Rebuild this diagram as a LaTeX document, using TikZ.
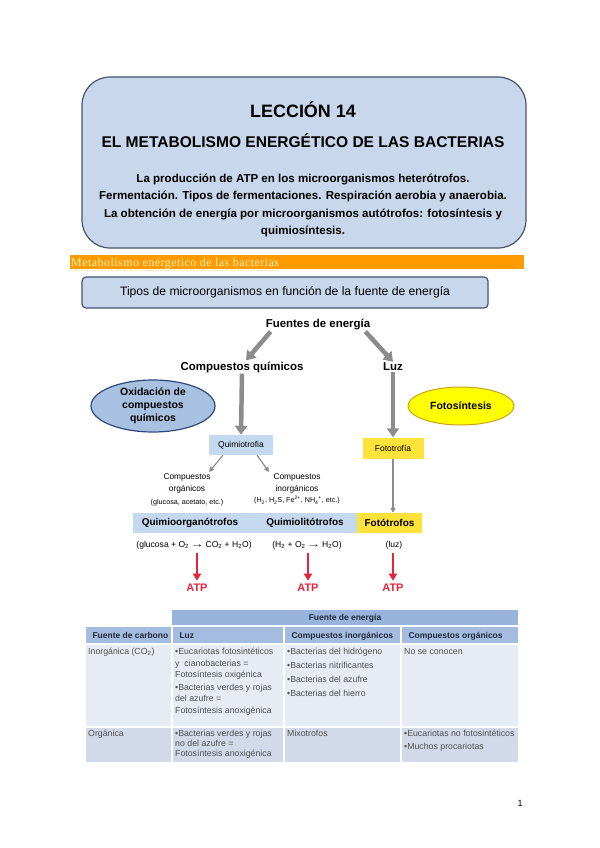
\documentclass[tikz,border=0pt]{standalone}
\usepackage{fontspec}
\setmainfont{Liberation Sans}
\newfontfamily\serifa[LetterSpace=4]{Liberation Serif}
\usetikzlibrary{arrows.meta,shapes.geometric}
\definecolor{cajaazul}{HTML}{C8D7EB}
\definecolor{bordeazul}{HTML}{44546F}
\definecolor{naranja}{HTML}{FF9A00}
\definecolor{crema}{HTML}{FFF1B8}
\definecolor{elipseazul}{HTML}{A9C1E0}
\definecolor{bordeelipse}{HTML}{2E4A7A}
\definecolor{amarillo}{HTML}{FFFF00}
\definecolor{bordeoro}{HTML}{C9A21A}
\definecolor{oro}{HTML}{FFE33B}
\definecolor{celeste}{HTML}{C4D8EF}
\definecolor{flecha}{HTML}{8C8C8C}
\definecolor{rojo}{HTML}{E4243A}
\definecolor{tabcab}{HTML}{98B4DC}
\definecolor{tabcabdos}{HTML}{A4BCE0}
\definecolor{tabfila}{HTML}{E7ECF4}
\definecolor{tabfilados}{HTML}{D2DAE9}
\definecolor{textogris}{HTML}{505050}
\definecolor{textooscuro}{HTML}{1E2A3A}
\newcommand{\reacciona}{\,\scalebox{1.6}[1.1]{\textbf{→}}\,}
\tikzset{
  flechagris/.style={draw=flecha,line width=4.5bp,-{Triangle[width=12bp,length=9bp]}},
  flechafina/.style={draw=flecha,line width=1.2bp,-{Triangle[width=5bp,length=5bp]}},
  flecharoja/.style={draw=rojo,line width=2.4bp,-{Triangle[width=8bp,length=7bp]}},
  rotulo/.style={font=\bfseries\fontsize{11.5}{13}\selectfont,inner sep=1bp},
  subtitulo/.style={anchor=base,font=\bfseries\fontsize{11.6}{13}\selectfont},
  ecuacion/.style={font=\fontsize{8.6}{10}\selectfont},
  cabecera/.style={anchor=base west,text=textooscuro,font=\bfseries\fontsize{8.5}{10}\selectfont},
  celda/.style={anchor=north west,inner sep=0pt,align=left,text=textogris,font=\fontsize{8.8}{11.5}\selectfont},
  separador/.style={white,line width=1.5bp}
}
\begin{document}
\begin{tikzpicture}[x=1bp,y=-1bp]
\useasboundingbox[fill=white] (0,0) rectangle (600,848);
% cabecera de la leccion
\draw[fill=cajaazul,draw=bordeazul,line width=1.2bp,rounded corners=28bp] (82,77) rectangle (526,248);
\node[anchor=base,font=\bfseries\fontsize{18}{20}\selectfont] (leccion) at (303,117) {LECCIÓN 14};
\node[anchor=base,font=\bfseries\fontsize{15.6}{17}\selectfont] (tema) at (303,147.5) {EL METABOLISMO ENERGÉTICO DE LAS BACTERIAS};
\node[subtitulo] (linea1) at (303,182) {La producción de ATP en los microorganismos heterótrofos.};
\node[subtitulo] (linea2) at (303,199.5) {Fermentación. Tipos de fermentaciones. Respiración aerobia y anaerobia.};
\node[subtitulo] (linea3) at (303,217) {La obtención de energía por microorganismos autótrofos: fotosíntesis y};
\node[subtitulo] (linea4) at (303,234.5) {quimiosíntesis.};
% barra naranja
\fill[naranja] (70,255) rectangle (524,269);
\node[anchor=base west,inner sep=0pt,text=crema,font=\serifa\fontsize{12}{13}\selectfont] (barra) at (71,266) {\underline{Metabolismo enérgetico de las bacterias}};
\node[draw=bordeazul,fill=cajaazul,rounded corners=4bp,line width=1.2bp,minimum width=406bp,minimum height=31bp,font=\fontsize{12.2}{14}\selectfont] (tipos) at (285,292.5) {Tipos de microorganismos en función de la fuente de energía};
% esquema de fuentes de energia
\node[rotulo] (fuentes) at (318,325) {Fuentes de energía};
\node[rotulo] (quim) at (242,367) {Compuestos químicos};
\node[rotulo] (luz) at (393,367) {Luz};
\draw[flechagris] ([xshift=6bp]fuentes.south west) -- ([xshift=4bp]quim.north);
\draw[flechagris] ([xshift=-6bp]fuentes.south east) -- (luz.north);
\node[ellipse,draw=bordeelipse,fill=elipseazul,line width=1.2bp,inner sep=0pt,minimum width=124bp,minimum height=52bp,align=center,font=\bfseries\fontsize{10.5}{13}\selectfont] (oxid) at (153,406) {Oxidación de\\compuestos\\químicos};
\node[ellipse,draw=bordeoro,fill=amarillo,line width=1bp,inner sep=0pt,minimum width=106bp,minimum height=38bp,font=\bfseries\fontsize{10.5}{13}\selectfont] (fotos) at (461,406) {Fotosíntesis};
\node[fill=celeste,minimum width=64bp,minimum height=20bp,font=\fontsize{8.5}{10}\selectfont] (quimio) at (241,445) {Quimiotrofia};
\node[fill=oro,minimum width=61bp,minimum height=21bp,font=\fontsize{8.5}{10}\selectfont] (foto) at (393,448) {Fototrofía};
\draw[flechagris] (quim.south) -- (quimio.north);
\draw[flechagris] (luz.south) -- (foto.north);
\node[anchor=north,inner sep=1bp,align=center,font=\fontsize{8.4}{12}\selectfont] (comporg) at (187,472) {Compuestos\\orgánicos\\[2pt]{\fontsize{7.2}{8}\selectfont(glucosa, acetato, etc.)}};
\node[anchor=north,inner sep=1bp,align=center,font=\fontsize{8.4}{12}\selectfont] (compinorg) at (297,472) {Compuestos\\inorgánicos\\{\fontsize{7.2}{8}\selectfont(H\textsubscript{2}, H\textsubscript{2}S, Fe\textsuperscript{2+}, NH\textsubscript{4}\textsuperscript{+}, etc.)}};
\draw[flechafina] ([xshift=-18bp]quimio.south) -- ([xshift=22bp]comporg.north);
\draw[flechafina] ([xshift=16bp]quimio.south) -- ([xshift=-28bp]compinorg.north);
% banda de tipos
\fill[celeste] (133,513) rectangle (357,533);
\node[font=\bfseries\fontsize{10}{11}\selectfont] (quimorg) at (190,523) {Quimioorganótrofos};
\node[font=\bfseries\fontsize{10}{11}\selectfont] (quimlit) at (305,523) {Quimiolitótrofos};
\node[fill=oro,minimum width=65bp,minimum height=20bp,font=\bfseries\fontsize{10}{11}\selectfont] (fotot) at (389.5,523) {Fotótrofos};
\draw[flechafina] (foto.south) -- (foto.south |- fotot.north);
\node[ecuacion] (eq1) at (194,545) {(glucosa + O\textsubscript{2}\reacciona CO\textsubscript{2} + H\textsubscript{2}O)};
\node[ecuacion] (eq2) at (307,545) {(H\textsubscript{2} + O\textsubscript{2}\reacciona H\textsubscript{2}O)};
\node[ecuacion] (eq3) at (394,545) {(luz)};
\node[text=rojo,font=\bfseries\fontsize{11}{12}\selectfont] (atp1) at (197,588) {ATP};
\node[text=rojo,font=\bfseries\fontsize{11}{12}\selectfont] (atp2) at (308,588) {ATP};
\node[text=rojo,font=\bfseries\fontsize{11}{12}\selectfont] (atp3) at (393,588) {ATP};
\draw[flecharoja] (eq1.south -| atp1.north) -- (atp1.north);
\draw[flecharoja] (eq2.south -| atp2.north) -- (atp2.north);
\draw[flecharoja] (eq3.south -| atp3.north) -- (atp3.north);
% tabla
\fill[tabcab] (172,610) rectangle (518,626);
\fill[tabcabdos] (86,626) rectangle (518,644);
\fill[tabfila] (86,644) rectangle (518,727);
\fill[tabfilados] (86,727) rectangle (518,762);
\draw[separador] (86,626) -- (518,626);
\draw[separador] (86,644) -- (518,644);
\draw[separador] (86,727) -- (518,727);
\foreach \cx in {172,284,401}
  \draw[separador] (\cx,626) -- (\cx,762);
\node[text=textooscuro,font=\bfseries\fontsize{8.5}{10}\selectfont] (fenergia) at (345,618) {Fuente de energía};
\node[cabecera] (fcarbono) at (89,638) {Fuente de carbono};
\node[cabecera] (cluz) at (176,638) {Luz};
\node[cabecera] (cinorg) at (288,638) {Compuestos inorgánicos};
\node[cabecera] (corg) at (405,638) {Compuestos orgánicos};
\node[celda] (inorganica) at (88,648) {Inorgánica (CO\textsubscript{2})};
\node[celda] (luzinorg) at (175,648) {•Eucariotas fotosintéticos\\y \ cianobacterias =\\Fotosíntesis oxigénica\\[1.5pt]•Bacterias verdes y rojas\\del azufre =\\Fotosíntesis anoxigénica};
\node[celda] (quimioinorg) at (287,648) {•Bacterias del hidrógeno\\[2.5pt]•Bacterias nitrificantes\\[2.5pt]•Bacterias del azufre\\[2.5pt]•Bacterias del hierro};
\node[celda] (noconocen) at (404,648) {No se conocen};
\node[celda] (organica) at (88,730) {Orgánica};
\node[celda,font=\fontsize{8.8}{10}\selectfont] (luzorg) at (175,730) {•Bacterias verdes y rojas\\no del azufre =\\Fotosíntesis anoxigénica};
\node[celda] (mixo) at (287,730) {Mixotrofos};
\node[celda] (heteroorg) at (404,730) {•Eucariotas no fotosintéticos\\[1.5pt]•Muchos procariotas};
% numero de pagina
\node[font=\fontsize{9}{10}\selectfont] (pagina) at (520,803) {1};
\end{tikzpicture}
\end{document}
